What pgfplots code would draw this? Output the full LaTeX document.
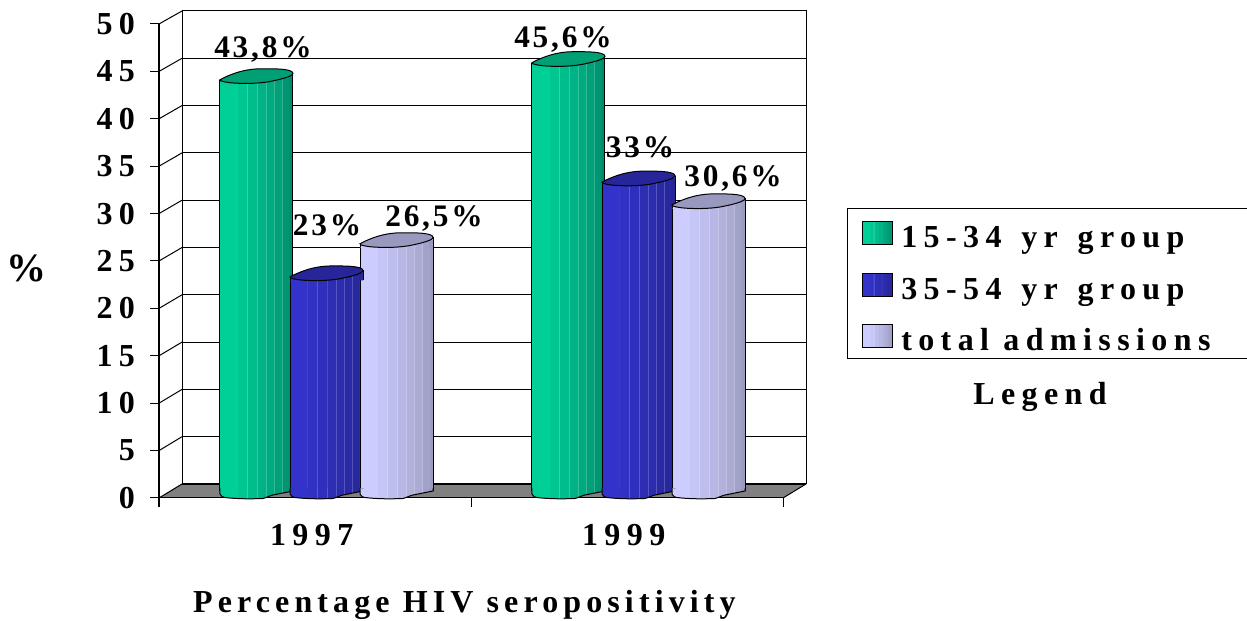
\documentclass[border=0pt]{standalone}
\usepackage{fontspec}
\usepackage{pgfplots}
\pgfplotsset{compat=1.18}
\setmainfont{Liberation Serif}
\newfontfamily\wide[LetterSpace=20]{Liberation Serif Bold}
\newfontfamily\midw[LetterSpace=16]{Liberation Serif Bold}
\newfontfamily\narrow[LetterSpace=9]{Liberation Serif Bold}
\newcommand\tk{\wide\fontsize{24pt}{28pt}\selectfont}
\newcommand\tl{\midw\fontsize{24pt}{28pt}\selectfont}
\newcommand\dl{\narrow\fontsize{23.5pt}{27pt}\selectfont}
\definecolor{gA}{RGB}{0,208,152}\definecolor{gB}{RGB}{0,140,108}\definecolor{gT}{RGB}{0,160,116}
\definecolor{bA}{RGB}{51,51,204}\definecolor{bB}{RGB}{38,38,150}\definecolor{bT}{RGB}{38,38,153}
\definecolor{lA}{RGB}{204,204,255}\definecolor{lB}{RGB}{155,155,192}\definecolor{lT}{RGB}{153,153,192}
\newcommand\declcyl[3]{\pgfdeclarehorizontalshading{#1}{100bp}{%
 color(0bp)=(#2); color(36.7bp)=(#2);
 color(36.8bp)=(#2!80!white); color(37.1bp)=(#2!80!white);
 color(37.2bp)=(#3!14!#2); color(43.2bp)=(#3!14!#2);
 color(43.3bp)=(#3!14!#2!80!white); color(43.6bp)=(#3!14!#2!80!white);
 color(43.7bp)=(#3!28!#2); color(50.2bp)=(#3!28!#2);
 color(50.3bp)=(#3!28!#2!80!white); color(50.6bp)=(#3!28!#2!80!white);
 color(50.7bp)=(#3!42!#2); color(56.2bp)=(#3!42!#2);
 color(56.3bp)=(#3!42!#2!80!white); color(56.6bp)=(#3!42!#2!80!white);
 color(56.7bp)=(#3!56!#2); color(61.7bp)=(#3!56!#2);
 color(61.8bp)=(#3!56!#2!80!white); color(62.1bp)=(#3!56!#2!80!white);
 color(62.2bp)=(#3!70!#2); color(67.2bp)=(#3!70!#2);
 color(67.3bp)=(#3!70!#2!80!white); color(67.6bp)=(#3!70!#2!80!white);
 color(67.7bp)=(#3!85!#2); color(71.7bp)=(#3!85!#2);
 color(71.8bp)=(#3!85!#2!80!white); color(72.1bp)=(#3!85!#2!80!white);
 color(72.2bp)=(#3); color(100bp)=(#3)}}
\declcyl{cylG}{gA}{gB}
\declcyl{cylB}{bA}{bB}
\declcyl{cylL}{lA}{lB}
\newcommand\defmarks[2]{%
 \pgfdeclareplotmark{top#1}{%
  \path[x=.75pt,y=.75pt,draw=none,shade,shading=cyl#1,shading angle=0]
  (-36.5,-7) -- (36.5,-7) -- (36.5,1) -- (0,0) -- (-36.5,-3.5) -- cycle;
  \draw[x=.75pt,y=.75pt,black,line width=.75pt] (-36.5,-7) -- (-36.5,-3.5) (36.5,-7) -- (36.5,3);
  \filldraw[x=.75pt,y=.75pt,fill=#2,draw=black,line width=.75pt]
  (-36.5,-3.5) .. controls (-30,0) and (-15,7.5) .. (5,7.5) .. controls (15,7.5) and (36,8) .. (36.5,3)
  .. controls (36.5,0) and (25,-3) .. (12,-5.5) .. controls (0,-7.5) and (-15,-7.5) .. (-26,-6.5)
  .. controls (-30,-6) and (-37,-5) .. (-36.5,-3.5) -- cycle;}%
 \pgfdeclareplotmark{bot#1}{%
  \path[x=.75pt,y=.75pt,draw=none,shade,shading=cyl#1,shading angle=0]
  (-36.5,3) -- (-36.5,-2.5) .. controls (-36,-5) and (-33,-6) .. (-31.5,-6)
  .. controls (-20,-7.5) and (-5,-7.5) .. (6.5,-7) .. controls (10,-6) and (14,-4) .. (16.5,-3.5)
  -- (31.5,-0.5) -- (36.5,0.5) -- (36.5,3) -- cycle;
  \draw[x=.75pt,y=.75pt,black,line width=.75pt]
  (-36.5,3) -- (-36.5,-2.5) .. controls (-36,-5) and (-33,-6) .. (-31.5,-6)
  .. controls (-20,-7.5) and (-5,-7.5) .. (6.5,-7) .. controls (10,-6) and (14,-4) .. (16.5,-3.5)
  -- (31.5,-0.5) -- (36.5,0.5) -- (36.5,3);}}
\defmarks{G}{gT}\defmarks{B}{bT}\defmarks{L}{lT}
\pgfplotsset{
  cylbar/.style={ybar,bar shift=0pt,bar width=54.75pt,draw=none,shade,shading=cyl#1,shading angle=0,y filter/.expression={y-0.63}},
  side/.style={ycomb,black,line width=.75pt,mark=none,forget plot,y filter/.expression={y-0.63},xshift=#1},
  swatch/.style 2 args={legend image code/.code={\draw[black,line width=.75pt,fill=#1] (0pt,-3.7pt) rectangle (22.5pt,13.5pt);\path (27pt,0pt) (0pt,#2);}}
}
\begin{document}
\begin{tikzpicture}
\path[use as bounding box] (0,0) rectangle (935.25pt,465.75pt);
% back wall
\begin{axis}[name=back,at={(136.5pt,102.75pt)},anchor=south west,scale only axis,width=468pt,height=354.75pt,
  xmin=0,xmax=1,ymin=0,ymax=50,ytick={0,5,...,50},xtick=\empty,yticklabels={},
  ymajorgrids,major tick length=0pt,grid style={black,line width=.75pt},axis line style={black,line width=.75pt}]
\end{axis}
% floor and side wall
\fill[black!50] (119.25pt,92.25pt) -- (136.5pt,102.75pt) -- (604.5pt,102.75pt) -- (587.25pt,92.25pt) -- cycle;
\draw[black,line width=1.6pt] (136.5pt,102.75pt) -- (604.5pt,102.75pt);
\draw[black,line width=.75pt] (604.5pt,102.75pt) -- (587.25pt,92.25pt);
\foreach \v in {0,5,...,50}
  \draw[black,line width=.75pt] ({119.25pt},{92.25pt+\v*7.11pt}) -- ({136.5pt},{102.75pt+\v*7.095pt});
% front axis
\begin{axis}[name=front,at={(119.25pt,92.25pt)},anchor=south west,scale only axis,width=468pt,height=355.5pt,
  xmin=-0.5,xmax=1.5,ymin=0,ymax=50,
  axis x line*=bottom,axis y line*=left,axis line style={black,line width=.75pt,-},
  ytick={0,5,...,50},xtick={-0.5,0.5,1.5},xticklabels={,,},
  extra x ticks={0,1},extra x tick labels={1997,1999},
  extra x tick style={major tick length=0pt,xticklabel style={yshift=-16pt,xshift=-2.5pt}},
  tick align=outside,major tick length=6.5pt,tick style={black,line width=.75pt},
  /pgf/number format/assume math mode=true,
  ticklabel style={font=\tk},
  yticklabel style={xshift=-8pt},
  xlabel={Percentage HIV seropositivity},
  xlabel style={font=\tl,at={(axis description cs:0.4895,-0.226)},anchor=center},
]
\end{axis}
% bars at mid depth
\begin{axis}[name=data,at={(127.875pt,97.125pt)},anchor=south west,scale only axis,width=468pt,height=355.5pt,
  xmin=-0.5,xmax=1.5,ymin=0,ymax=50,hide axis,clip=false,
  legend cell align=left,
  legend style={at={(1.0841,0.598)},anchor=north west,draw=black,line width=.75pt,fill=white,
    font=\tk,inner xsep=11pt,inner ysep=0pt,row sep=12.8pt,
    nodes={text height=16pt,text depth=4pt,inner sep=2pt}},
]
\addplot[cylbar=G,swatch={gA}{23.45pt}] coordinates {(-0.2244,43.8)};
\addlegendentry{15-34\hspace{4pt} yr\hspace{4pt} group\rule{100pt}{0pt}}
\addplot[cylbar=G,forget plot] coordinates {(0.7756,45.6)};
\addplot[side=-27.375pt] coordinates {(-0.2244,43.8) (0.7756,45.6)};
\addplot[side=27.375pt] coordinates {(-0.2244,43.8) (0.7756,45.6)};
\addplot[only marks,mark=botG,forget plot] coordinates {(-0.2244,0) (0.7756,0)};
\addplot[only marks,mark=topG,forget plot] coordinates {(-0.2244,43.8) (0.7756,45.6)};
\addplot[cylbar=B,swatch={bA}{0pt}] coordinates {(0,23)};
\addlegendentry{35-54\hspace{4pt} yr\hspace{4pt} group}
\addplot[cylbar=B,forget plot] coordinates {(1,33)};
\addplot[side=-27.375pt] coordinates {(0,23) (1,33)};
\addplot[side=27.375pt] coordinates {(0,23) (1,33)};
\addplot[only marks,mark=botB,forget plot] coordinates {(0,0) (1,0)};
\addplot[only marks,mark=topB,forget plot] coordinates {(0,23) (1,33)};
\addplot[cylbar=L,swatch={lA}{0pt}] coordinates {(0.2244,26.5)};
\addlegendentry{total admissions}
\addplot[cylbar=L,forget plot] coordinates {(1.2244,30.6)};
\addplot[side=-27.375pt] coordinates {(0.2244,26.5) (1.2244,30.6)};
\addplot[side=27.375pt] coordinates {(0.2244,26.5) (1.2244,30.6)};
\addplot[only marks,mark=botL,forget plot] coordinates {(0.2244,0) (1.2244,0)};
\addplot[only marks,mark=topL,forget plot] coordinates {(0.2244,26.5) (1.2244,30.6)};
\node[font=\dl] at (axis cs:-0.2035,46.65) {43,8\%};
\node[font=\dl] at (axis cs:0.0016,28.1) {23\%};
\node[font=\dl] at (axis cs:0.3446,28.8) {26,5\%};
\node[font=\dl] at (axis cs:0.758,47.65) {45,6\%};
\node[font=\dl] at (axis cs:1.0048,36.3) {33\%};
\node[font=\dl] at (axis cs:1.303,33.05) {30,6\%};
\end{axis}
\node[font=\tk] at (780pt,168pt) {Legend};
\node[font={\bfseries\fontsize{30pt}{34pt}\selectfont}] at (20.25pt,264.75pt) {\%};
\end{tikzpicture}
\end{document}
